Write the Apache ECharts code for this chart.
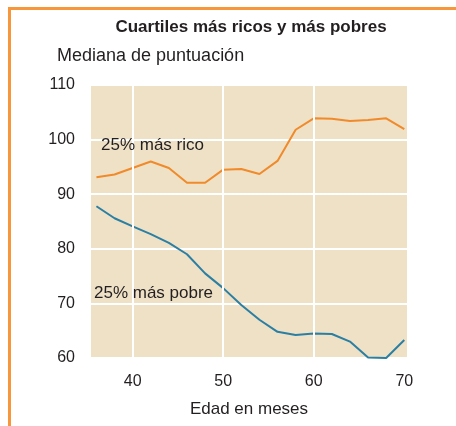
<!DOCTYPE html>
<html>
<head>
<meta charset="utf-8">
<script src="https://cdn.jsdelivr.net/npm/echarts@6/dist/echarts.min.js"></script>
<style>
  html, body { margin: 0; padding: 0; background: #fff; }
  #frame {
    position: absolute; left: 8px; top: 7px; width: 448px; height: 419px;
    border-top: 3px solid #f7963a; border-left: 3px solid #f7963a;
    box-sizing: border-box;
  }
  #chart { position: absolute; left: 0; top: 0; width: 456px; height: 426px; }
</style>
</head>
<body>
<div id="frame"></div>
<div id="chart"></div>
<script>
// edad en meses
var months = [36, 38, 40, 42, 44, 46, 48, 50, 52, 54, 56, 58, 60, 62, 64, 66, 68, 70];
// 25% más rico
var richValues = [93.1, 93.6, 94.8, 96.0, 94.8, 92.1, 92.1, 94.5, 94.6, 93.7, 96.1, 101.8, 103.9, 103.8, 103.4, 103.6, 103.9, 101.9];
// 25% más pobre
var poorValues = [87.8, 85.6, 84.1, 82.7, 81.1, 79.0, 75.5, 72.8, 69.7, 67.0, 64.8, 64.2, 64.5, 64.4, 63.0, 60.1, 60.0, 63.3];
var xTicks = [40, 50, 60, 70];
var xGridLines = [40, 50, 60];

var font = "'Liberation Sans', Arial, sans-serif";
var textColor = "#231f20";

var chart = echarts.init(document.getElementById("chart"));

function pairs(xs, ys) {
  return xs.map(function (x, i) { return [x, ys[i]]; });
}

var option = {
  animation: false,
  title: [
    {
      text: "Cuartiles más ricos y más pobres",
      left: 246, top: 14, textAlign: "center",
      textStyle: { fontFamily: font, fontWeight: "bold", fontSize: 17, color: textColor }
    },
    {
      text: "Mediana de puntuación",
      left: 52, top: 42,
      textStyle: { fontFamily: font, fontWeight: "normal", fontSize: 18, color: textColor }
    }
  ],
  grid: { left: 91, top: 85, right: 49, bottom: 68, show: true, backgroundColor: "#efe1c6", borderWidth: 0 },
  xAxis: {
    type: "value",
    min: 35.4,
    max: 70.3,
    name: "Edad en meses",
    nameLocation: "middle",
    nameGap: 43,
    nameTextStyle: { fontFamily: font, fontSize: 17, color: textColor },
    axisLine: { show: false },
    axisTick: { show: false },
    splitLine: { show: false },
    axisLabel: {
      customValues: xTicks,
      margin: 16,
      fontFamily: font, fontSize: 16, color: textColor
    }
  },
  yAxis: {
    type: "value",
    min: 60,
    max: 110,
    interval: 10,
    axisLine: { show: false },
    axisTick: { show: false },
    splitLine: { show: true, lineStyle: { color: "#ffffff", width: 2 } },
    axisLabel: { margin: 16, fontFamily: font, fontSize: 16, color: textColor }
  },
  series: [
    {
      name: "grid",
      type: "line",
      data: [],
      silent: true,
      markLine: {
        silent: true,
        symbol: "none",
        label: { show: false },
        lineStyle: { color: "#ffffff", width: 2, type: "solid" },
        data: xGridLines.map(function (v) { return { xAxis: v }; })
      }
    },
    {
      name: "25% más rico",
      type: "line",
      data: pairs(months, richValues),
      showSymbol: false,
      lineStyle: { color: "#f08a2a", width: 2 },
      z: 3
    },
    {
      name: "25% más pobre",
      type: "line",
      data: pairs(months, poorValues),
      showSymbol: false,
      lineStyle: { color: "#2a7fa3", width: 2 },
      z: 3
    }
  ],
  graphic: [
    {
      type: "text", left: 101, top: 137, z: 10,
      style: { text: "25% más rico", font: "17px " + font, fill: textColor }
    },
    {
      type: "text", left: 94, top: 285, z: 10,
      style: { text: "25% más pobre", font: "17px " + font, fill: textColor }
    }
  ]
};

chart.setOption(option);
</script>
</body>
</html>
